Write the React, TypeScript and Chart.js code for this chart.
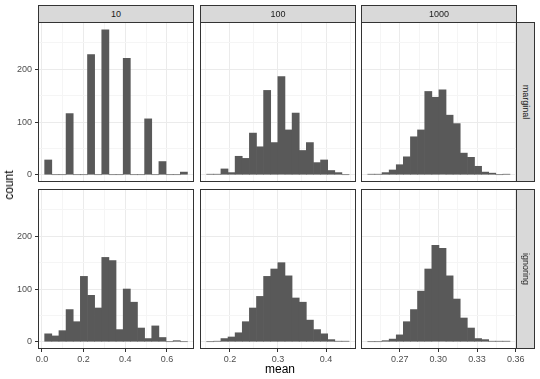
import React, { useEffect, useRef } from "react";
import { Chart, registerables } from "chart.js";

Chart.register(...registerables);

// ---- data ----
const colLabels = ["10", "100", "1000"];
const rowLabels = ["marginal", "ignoring"];

const centers10 = [0.0301, 0.0644, 0.0987, 0.1329, 0.1672, 0.2015, 0.2358, 0.2701, 0.3043, 0.3386, 0.3729, 0.4072, 0.4415, 0.4757, 0.51, 0.5443, 0.5786, 0.6129, 0.6471, 0.6814];
const centers100 = [0.1588, 0.1736, 0.1885, 0.2033, 0.2181, 0.233, 0.2478, 0.2626, 0.2774, 0.2923, 0.3071, 0.3219, 0.3368, 0.3516, 0.3664, 0.3813, 0.3961, 0.4109, 0.4257, 0.4406];
const centers1000 = [0.248, 0.2535, 0.2591, 0.2646, 0.2701, 0.2756, 0.2811, 0.2866, 0.2922, 0.2977, 0.3032, 0.3087, 0.3142, 0.3197, 0.3253, 0.3308, 0.3363, 0.3418, 0.3473, 0.3528];

const marginal10 = [28, 0, 0, 116, 0, 0, 228, 0, 275, 0, 0, 221, 0, 0, 106, 0, 25, 0, 0, 5];
const ignoring10 = [15, 11, 21, 61, 38, 124, 88, 64, 160, 154, 23, 100, 75, 26, 6, 30, 8, 0, 2, 0];
const marginal100 = [1, 1, 11, 4, 35, 31, 79, 53, 160, 61, 186, 85, 117, 46, 61, 23, 28, 8, 4, 0];
const ignoring100 = [0, 1, 6, 9, 17, 38, 64, 86, 124, 138, 150, 125, 83, 75, 41, 23, 15, 4, 1, 1];
const marginal1000 = [1, 1, 4, 9, 19, 34, 72, 85, 158, 147, 161, 113, 97, 41, 33, 16, 5, 3, 0, 1];
const ignoring1000 = [0, 0, 2, 5, 13, 38, 61, 96, 138, 183, 177, 125, 81, 45, 26, 6, 4, 1, 1, 1];

const xMajor10 = [0, 0.2, 0.4, 0.6];
const xLabels10 = ["0.0", "0.2", "0.4", "0.6"];
const xMinor10 = [0.1, 0.3, 0.5, 0.7];
const xMajor100 = [0.2, 0.3, 0.4];
const xLabels100 = ["0.2", "0.3", "0.4"];
const xMinor100 = [0.15, 0.25, 0.35, 0.45];
const xMajor1000 = [0.27, 0.3, 0.33, 0.36];
const xLabels1000 = ["0.27", "0.30", "0.33", "0.36"];
const xMinor1000 = [0.255, 0.285, 0.315, 0.345];

const xRange10 = [-0.019, 0.73];
const xRange100 = [0.1375, 0.4625];
const xRange1000 = [0.24, 0.361];

const yMajor = [0, 100, 200];
const yLabels = ["0", "100", "200"];
const yMinor = [50, 150, 250];
const yRange = [-13.8, 289.8];

// ---- layout ----
const FONT = "'Liberation Sans', Arial, Helvetica, sans-serif";
const colLeft = [38, 200, 361];
const colWidth = 156;
const rowTop = [22, 189];
const rowHeight = 160;

const columns = [
  { centers: centers10, rows: [marginal10, ignoring10], major: xMajor10, labels: xLabels10, minor: xMinor10, range: xRange10 },
  { centers: centers100, rows: [marginal100, ignoring100], major: xMajor100, labels: xLabels100, minor: xMinor100, range: xRange100 },
  { centers: centers1000, rows: [marginal1000, ignoring1000], major: xMajor1000, labels: xLabels1000, minor: xMinor1000, range: xRange1000 },
];

const isIn = (arr: number[], v: number) => arr.some((a) => Math.abs(a - v) < 1e-9);
const labelFor = (major: number[], labels: string[], v: number) => {
  const i = major.findIndex((a) => Math.abs(a - v) < 1e-9);
  return i >= 0 ? labels[i] : "";
};

const borderPlugin = {
  id: "panelBorder",
  afterDraw(chart: any) {
    const { ctx, chartArea: a } = chart;
    ctx.save();
    ctx.strokeStyle = "#333333";
    ctx.lineWidth = 1;
    ctx.strokeRect(a.left + 0.5, a.top + 0.5, a.right - a.left - 1, a.bottom - a.top - 1);
    ctx.restore();
  },
};

function Panel(props: any) {
  const { centers, counts, major, labels, minor, range, showX, showY, left, top } = props;
  const ref = useRef<HTMLCanvasElement>(null);
  const L = showY ? 38 : 0;
  const B = showX ? 20 : 0;
  const R = showX ? 14 : 0;
  const W = colWidth + L + R;
  const H = rowHeight + B;

  useEffect(() => {
    const canvas = ref.current!;
    const xTicks = [...major, ...minor].sort((a, b) => a - b);
    const yTicks = [...yMajor, ...yMinor].sort((a, b) => a - b);
    const chart = new Chart(canvas, {
      type: "bar",
      data: {
        datasets: [
          {
            data: centers.map((c: number, i: number) => ({ x: c, y: counts[i] })),
            backgroundColor: "#595959",
            borderWidth: 0,
            categoryPercentage: 1,
            barPercentage: 1,
          } as any,
        ],
      },
      options: {
        animation: false,
        responsive: false,
        devicePixelRatio: 1,
        layout: { padding: { left: 0, top: 0, right: R, bottom: 0 } },
        plugins: { legend: { display: false }, tooltip: { enabled: false }, title: { display: false } },
        scales: {
          x: {
            type: "linear",
            min: range[0],
            max: range[1],
            offset: false,
            bounds: "data",
            afterBuildTicks: (s: any) => {
              s.ticks = xTicks.map((v) => ({ value: v }));
            },
            afterFit: (s: any) => {
              s.height = B;
              s.paddingLeft = 0;
              s.paddingRight = 0;
              s.paddingTop = 0;
              s.paddingBottom = 0;
            },
            ticks: {
              display: showX,
              autoSkip: false,
              maxRotation: 0,
              minRotation: 0,
              padding: 2,
              color: "#4D4D4D",
              font: { family: FONT, size: 9 },
              callback: (v: any) => labelFor(major, labels, Number(v)),
            },
            grid: {
              offset: false,
              color: (ctx: any) => (isIn(major, ctx.tick?.value) ? "#EBEBEB" : "#F5F5F5"),
              lineWidth: 1,
              drawTicks: showX,
              tickLength: 3,
              tickWidth: 1,
              tickColor: (ctx: any) => (isIn(major, ctx.tick?.value) ? "#333333" : "rgba(0,0,0,0)"),
            },
            border: { display: false },
          } as any,
          y: {
            type: "linear",
            position: "left",
            min: yRange[0],
            max: yRange[1],
            bounds: "data",
            afterBuildTicks: (s: any) => {
              s.ticks = yTicks.map((v) => ({ value: v }));
            },
            afterFit: (s: any) => {
              s.width = L;
              s.paddingLeft = 0;
              s.paddingRight = 0;
              s.paddingTop = 0;
              s.paddingBottom = 0;
            },
            ticks: {
              display: showY,
              autoSkip: false,
              padding: 3,
              color: "#4D4D4D",
              font: { family: FONT, size: 9 },
              callback: (v: any) => labelFor(yMajor, yLabels, Number(v)),
            },
            grid: {
              color: (ctx: any) => (isIn(yMajor, ctx.tick?.value) ? "#EBEBEB" : "#F5F5F5"),
              lineWidth: 1,
              drawTicks: showY,
              tickLength: 3,
              tickWidth: 1,
              tickColor: (ctx: any) => (isIn(yMajor, ctx.tick?.value) ? "#333333" : "rgba(0,0,0,0)"),
            },
            border: { display: false },
          } as any,
        },
      },
      plugins: [borderPlugin],
    });
    return () => chart.destroy();
  }, []);

  return (
    <canvas
      ref={ref}
      width={W}
      height={H}
      style={{ position: "absolute", left: left - L, top, width: W, height: H }}
    />
  );
}

export default function App() {
  return (
    <div
      style={{
        position: "absolute",
        left: 0,
        top: 0,
        width: 540,
        height: 379,
        background: "#ffffff",
        overflow: "hidden",
        fontFamily: FONT,
      }}
    >
      {columns.map((col, ci) =>
        col.rows.map((counts, ri) => (
          <Panel
            key={`${ci}-${ri}`}
            centers={col.centers}
            counts={counts}
            major={col.major}
            labels={col.labels}
            minor={col.minor}
            range={col.range}
            showX={ri === 1}
            showY={ci === 0}
            left={colLeft[ci]}
            top={rowTop[ri]}
          />
        ))
      )}
      {colLabels.map((t, ci) => (
        <div
          key={t}
          style={{
            position: "absolute",
            left: colLeft[ci],
            top: 5,
            width: colWidth,
            height: 18,
            boxSizing: "border-box",
            border: "1px solid #333333",
            background: "#D9D9D9",
            color: "#1A1A1A",
            fontSize: 9,
            lineHeight: "16px",
            textAlign: "center",
          }}
        >
          {t}
        </div>
      ))}
      {rowLabels.map((t, ri) => (
        <div
          key={t}
          style={{
            position: "absolute",
            left: 516,
            top: rowTop[ri],
            width: 19,
            height: rowHeight,
            boxSizing: "border-box",
            border: "1px solid #333333",
            background: "#D9D9D9",
          }}
        >
          <div
            style={{
              position: "absolute",
              left: "50%",
              top: "50%",
              transform: "translate(-50%, -50%) rotate(90deg)",
              color: "#1A1A1A",
              fontSize: 9,
              whiteSpace: "nowrap",
            }}
          >
            {t}
          </div>
        </div>
      ))}
      <div
        style={{
          position: "absolute",
          left: 9,
          top: 185,
          transform: "translate(-50%, -50%) rotate(-90deg)",
          fontSize: 12,
          color: "#000000",
          whiteSpace: "nowrap",
        }}
      >
        count
      </div>
      <div
        style={{
          position: "absolute",
          left: 280,
          top: 369,
          transform: "translate(-50%, -50%)",
          fontSize: 12,
          color: "#000000",
          whiteSpace: "nowrap",
        }}
      >
        mean
      </div>
    </div>
  );
}
